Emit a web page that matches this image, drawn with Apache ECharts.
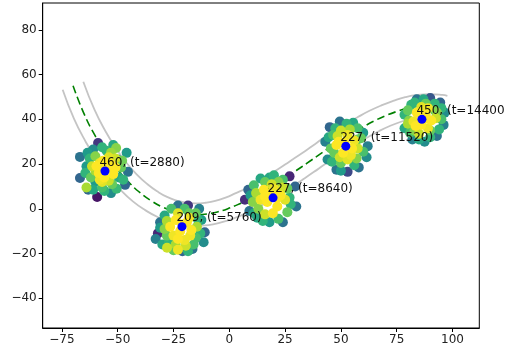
<!DOCTYPE html>
<html>
<head>
<meta charset="utf-8">
<script src="https://cdn.jsdelivr.net/npm/echarts@6/dist/echarts.min.js"></script>
<style>html,body{margin:0;padding:0;background:#fff}#c{width:505px;height:354px}</style>
</head>
<body>
<div id="c"></div>
<script>
// cluster centres and annotations
const centerX = [-55.7, -21.2, 19.6, 52.2, 86.3];
const centerY = [16.9, -8.0, 4.9, 28.0, 40.0];
const counts = [460, 209, 227, 227, 450];
const times = [2880, 5760, 8640, 11520, 14400];

// mean trajectory (green dashed)
const meanX = [-70,-65,-60,-55,-50,-45,-40,-35,-30,-25,-20,-15,-10,-5,0,5,10,15,20,25,30,35,40,45,50,55,60,65,70,75,80,85,90,95,97];
const meanY = [55.0,42.3,32.5,24.3,17.5,11.8,7.2,3.6,0.8,-1.1,-2.2,-2.6,-2.3,-1.3,0.3,2.4,4.8,7.6,10.6,13.8,17.1,20.5,24.0,27.4,30.6,33.7,36.6,39.3,41.6,43.5,45.0,45.9,46.2,45.9,45.6];

// upper band (grey)
const upperX = [-65.4,-60.4,-55.6,-50.8,-46.1,-41.4,-36.8,-32.3,-27.9,-23.6,-19.3,-15,-10.6,-6.3,-1.7,2.9,7.7,12.5,17.4,22.3,27.2,32.2,37.2,42.2,47.3,52.4,57.6,62.8,68.1,73.4,78.8,84.4,90,95.4,97.7];
const upperY = [56.8,44.3,34.9,27.1,20.6,15.3,11.1,7.8,5.3,3.7,2.7,2.4,2.7,3.5,5.0,7.0,9.2,11.9,14.9,18.0,21.3,24.6,28.1,31.6,34.8,38.0,41.0,43.8,46.2,48.2,49.9,50.9,51.2,50.9,50.5];

// lower band (grey)
const lowerX = [-74.65,-69.6,-64.4,-59.2,-53.9,-48.6,-43.2,-37.7,-32.1,-26.4,-20.7,-15,-9.4,-3.7,1.7,7.1,12.3,17.5,22.6,27.7,32.8,37.8,42.8,47.8,52.7,57.6,62.4,67.2,71.9,76.6,81.2,85.6,90,94.6,96.3];
const lowerY = [53.2,40.3,30.1,21.5,14.4,8.3,3.3,-0.6,-3.7,-5.9,-7.1,-7.6,-7.3,-6.1,-4.4,-2.2,0.4,3.3,6.4,9.6,13.0,16.4,19.9,23.2,26.4,29.4,32.2,34.8,37.0,38.8,40.1,40.9,41.2,40.9,40.7];

// scatter clusters: [x, y, colour value 0..1]
const cluster1 = [
  [-59.2,5.3,0.05],[-58.8,29.4,0.15],[-66.9,23.2,0.35],[-66.9,13.8,0.3],[-63.2,8.5,0.3],[-46.7,10.7,0.3],[-45.4,16.5,0.35],
  [-61,26.5,0.45],[-64,19,0.5],[-53,7,0.45],[-50,22,0.55],[-60,12,0.5],[-49.5,14,0.55],[-55,26,0.6],[-62.5,22.5,0.6],
  [-57,9.5,0.65],[-52.5,11,0.7],[-48.5,18.5,0.7],[-50.7,27.2,0.75],[-64,9.5,0.8],[-60,17,0.8],
  [-58,20.5,0.9],[-53,20,0.92],[-56,14,0.95],[-52,15.5,0.97],[-58.5,16,1],[-55,18,1],[-54,23,0.88],[-61.5,19,0.85],[-57,12,0.88],[-51,18.5,0.93],[-56.5,21.5,0.96],
  [-62,14,0.7],[-60,23.5,0.75],[-53,25,0.78],[-48,21.5,0.72],[-47.5,13,0.6],[-50.5,9,0.62],[-56,8,0.6],[-61,8.5,0.55],[-64.5,16,0.6],
  [-63.5,25,0.5],[-57,27.5,0.6],[-52,28.5,0.55],[-46,25,0.5],[-58,13,0.9],[-54,12.5,0.85],[-51,22.5,0.85],[-59.5,19,0.95]
];
const cluster2 = [
  [-32,-11,0.1],[-31,-6,0.35],[-33,-13.5,0.4],[-18.5,1.5,0.15],[-23,1.5,0.35],[-13.5,0,0.4],[-11,-10.5,0.3],[-11.5,-15,0.45],
  [-16.5,-18,0.35],[-21,-19,0.3],[-29,-3,0.55],[-27,-15,0.6],[-14,-5,0.6],[-15,-13,0.65],[-26,0,0.65],[-18,-2,0.7],[-29,-9,0.75],
  [-27.9,-17.4,0.85],[-23,-18.3,0.9],[-24,-5,0.95],[-19,-6,1.0],[-22,-10,1.0],[-17,-9.5,0.95],[-25,-12,0.9],[-20,-14,0.9],
  [-14.5,-8,0.8],[-23,-2,0.88],[-26.5,-8,0.92],[-19.5,-16.5,0.85],[-21,-7,0.98],
  [-28,-12,0.7],[-30,-16,0.55],[-24,-16,0.8],[-16,-16,0.65],[-13,-11,0.6],[-15,-2,0.7],[-20,0,0.65],[-28,-5.5,0.8],
  [-31,-8.5,0.5],[-12.5,-5,0.5],[-23,-13.5,0.95],[-17.5,-12,0.9],[-18,-4,0.9],[-25,-18.5,0.7],[-18.5,-19,0.6]
];
const cluster3 = [
  [7,4,0.12],[8.5,8.5,0.3],[9,-1,0.35],[27,14.5,0.1],[29.5,10,0.3],[30,1,0.35],[24,-6,0.35],[18,-6,0.5],[12.5,-4,0.55],
  [14,13.5,0.55],[20,15,0.6],[24,13,0.65],[11,10.5,0.65],[27,5,0.6],[26,-1.5,0.7],[10.5,3,0.75],[16,-2.5,0.85],
  [15.5,8.5,0.95],[20,9,0.9],[23,6,0.95],[17,3,1.0],[21.5,1,1.0],[14,4,0.9],[19.5,-2,0.92],[24,9.5,0.85],[18.5,6,0.98],
  [12,7,0.8],[13,0,0.75],[16,12,0.7],[22,12,0.75],[26,9,0.7],[27.5,2,0.6],[22,-4.5,0.65],[15,-5.5,0.6],[9.5,6,0.5],
  [11,-2,0.55],[18,14,0.55],[21.5,5,0.98],[16,5.5,0.95],[19,11,0.85],[25,4,0.88]
];
const cluster4 = [
  [45,36.5,0.3],[49.5,39,0.35],[43,30,0.4],[44,22,0.45],[48,17.5,0.35],[53,16.5,0.2],[58,18.5,0.35],[61.5,23,0.45],[62,28,0.4],
  [60,34,0.5],[55.5,38.5,0.55],[46.5,33,0.65],[57.5,31,0.7],[47,25,0.7],[50,20.5,0.7],[57,22.5,0.75],
  [49,30,0.95],[53,33,0.9],[55,27,1.0],[51,25,1.0],[48,28.5,0.92],[56,30.5,0.9],[53,22,0.88],[51.5,29.5,0.97],[50,35,0.85],
  [45.5,27,0.7],[46,21,0.6],[50,17,0.5],[56,19.5,0.6],[60,25.5,0.65],[59,31.5,0.7],[57.5,36,0.65],[52.5,38,0.6],[47.5,36,0.6],
  [44.5,32,0.55],[54.5,24,0.9],[49.5,23,0.85],[57.5,27,0.85],[48.5,32.5,0.85],[54,35.5,0.8]
];
const cluster5 = [
  [84,49,0.35],[90,49.5,0.25],[94.5,47.5,0.3],[96.5,43,0.45],[96,37.5,0.4],[93,32.5,0.35],[87.5,30,0.45],[82,31,0.4],
  [78.5,36,0.55],[78.5,42,0.6],[81.5,46.5,0.6],[92,44,0.7],[90,35,0.7],[83,35,0.75],[80.5,39.5,0.75],[88,47,0.7],
  [84,43,0.95],[88,42,1.0],[86,37.5,1.0],[90.5,39.5,0.92],[82.5,39,0.9],[86,45.5,0.88],[85,33.5,0.85],[92.5,40.5,0.85],[87,40,0.98],
  [80,44,0.7],[83,47.5,0.6],[87,49,0.55],[92,47,0.6],[95,45,0.6],[95,40,0.65],[94,35.5,0.6],[90,32,0.6],[85,31,0.55],
  [81,34,0.65],[80,38,0.8],[89,36,0.9],[83.5,37,0.92],[89,45,0.9],[93,43,0.75]
];

const xTicks = [-75,-50,-25,0,25,50,75,100];
const yTicks = [-40,-20,0,20,40,60,80];

const pairs = (xs, ys) => xs.map((x, i) => [x, ys[i]]);
const clusters = [cluster1, cluster2, cluster3, cluster4, cluster5];
const fmtNum = v => (v < 0 ? '\u2212' + Math.abs(v) : String(v));

const chart = echarts.init(document.getElementById('c'), null, {renderer: 'canvas'});
const series = [
  {type:'line', data: pairs(upperX, upperY), showSymbol:false, smooth:true, lineStyle:{color:'#c4c4c4', width:1.8}, z:1, silent:true},
  {type:'line', data: pairs(lowerX, lowerY), showSymbol:false, smooth:true, lineStyle:{color:'#c4c4c4', width:1.8}, z:1, silent:true},
  {type:'line', data: pairs(meanX, meanY), showSymbol:false, smooth:true, lineStyle:{color:'#008000', width:1.6, type:[8,4]}, z:2, silent:true}
];
// draw low values first so the bright core sits on top
clusters.forEach(c => series.push({type:'scatter', data:c.slice().sort((a, b) => a[2] - b[2]), symbolSize:10, itemStyle:{opacity:1}, z:3, silent:true}));
series.push({
  type:'scatter', data: pairs(centerX, centerY).map((p, i) => ({value:p, itemStyle:{color:'#0000ff'}, label:{formatter: counts[i] + ', (t=' + times[i] + ')'}})),
  symbolSize:9, itemStyle:{color:'#0000ff', opacity:1}, z:5, silent:true,
  label:{show:true, position:[-1,-10], align:'left', verticalAlign:'top', color:'#111', fontSize:12, fontFamily:'DejaVu Sans'}
});

chart.setOption({
  animation:false,
  backgroundColor:'#fff',
  grid:{left:42.7, right:25.7, top:3, bottom:26, show:true, borderColor:'#000', borderWidth:1, backgroundColor:'transparent'},
  visualMap:{show:false, type:'continuous', min:0, max:0.92, dimension:2, seriesIndex:[3,4,5,6,7],
    inRange:{color:['#440154','#482878','#3e4989','#31688e','#26828e','#1f9e89','#35b779','#6ece58','#b5de2b','#fde725']}},
  xAxis:{type:'value', min:-83.6, max:112, splitLine:{show:false},
    axisLine:{onZero:false, lineStyle:{color:'#000', width:1}},
    axisTick:{show:true, length:4, lineStyle:{color:'#000'}, customValues:xTicks},
    axisLabel:{color:'#222', fontSize:12, fontFamily:'DejaVu Sans', margin:6, customValues:xTicks, formatter:fmtNum}},
  yAxis:{type:'value', min:-53.3, max:92, splitLine:{show:false},
    axisLine:{show:true, onZero:false, lineStyle:{color:'#000', width:1}},
    axisTick:{show:true, length:4, lineStyle:{color:'#000'}, customValues:yTicks},
    axisLabel:{color:'#222', fontSize:12, fontFamily:'DejaVu Sans', margin:6, customValues:yTicks, formatter:fmtNum}},
  series: series
});
</script>
</body>
</html>
